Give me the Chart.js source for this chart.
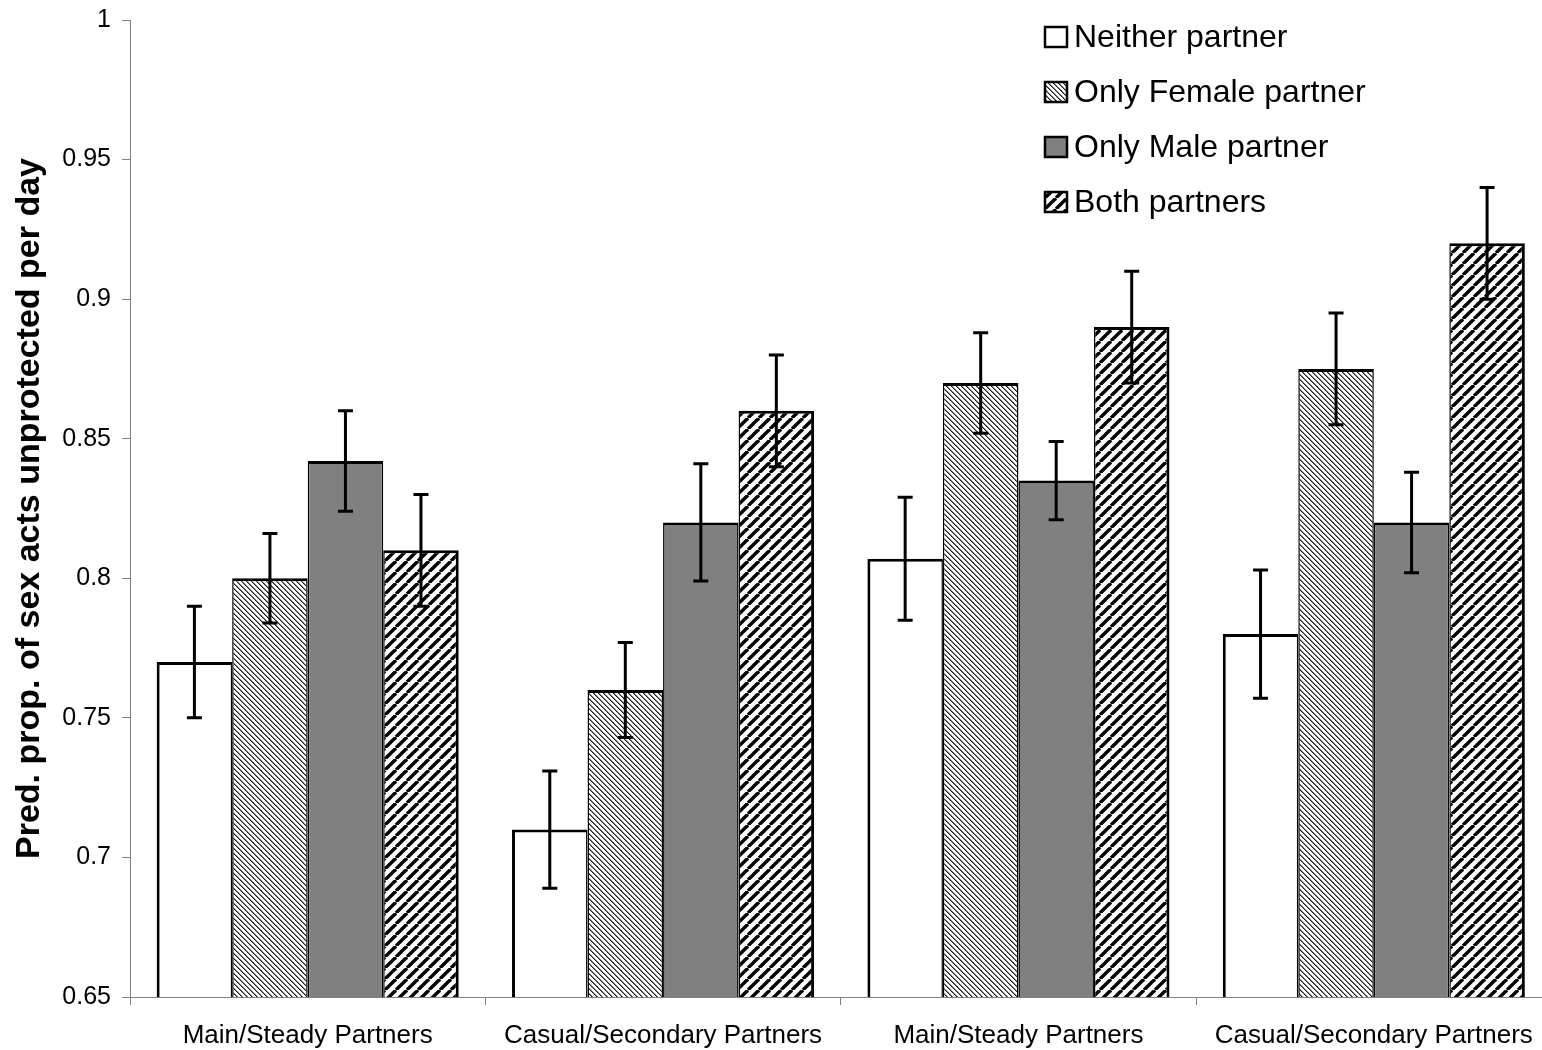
<!DOCTYPE html>
<html>
<head>
<meta charset="utf-8">
<script src="https://cdn.jsdelivr.net/npm/chart.js@4/dist/chart.umd.min.js"></script>
<style>
  html, body { margin: 0; padding: 0; background: #ffffff; overflow: hidden; }
  #wrap { width: 1560px; height: 1050px; }
</style>
</head>
<body>
<div id="wrap"><canvas id="chart" width="1560" height="1050"></canvas></div>
<script>
// Partner-type groups along the x axis
const categories = ['Main/Steady Partners', 'Casual/Secondary Partners', 'Main/Steady Partners', 'Casual/Secondary Partners'];

// Predicted proportion of sex acts unprotected per day, by who reports the condition
const neitherPartner = [0.770, 0.710, 0.807, 0.780];
const onlyFemale     = [0.800, 0.760, 0.870, 0.875];
const onlyMale       = [0.842, 0.820, 0.835, 0.820];
const bothPartners   = [0.810, 0.860, 0.890, 0.920];

// Lower / upper ends of the error bars
const neitherLow  = [0.750, 0.689, 0.785, 0.757];
const neitherHigh = [0.790, 0.731, 0.829, 0.803];
const femaleLow   = [0.784, 0.743, 0.852, 0.855];
const femaleHigh  = [0.816, 0.777, 0.888, 0.895];
const maleLow     = [0.824, 0.799, 0.821, 0.802];
const maleHigh    = [0.860, 0.841, 0.849, 0.838];
const bothLow     = [0.790, 0.840, 0.870, 0.900];
const bothHigh    = [0.830, 0.880, 0.910, 0.940];

const seriesLabels = ['Neither partner', 'Only Female partner', 'Only Male partner', 'Both partners'];
const yTickLabels = ['0.65', '0.7', '0.75', '0.8', '0.85', '0.9', '0.95', '1'];

const FONT = '"Liberation Sans", Arial, Helvetica, sans-serif';

// Fine back-slash hatch
function fineHatch() {
  const n = 5;
  const c = document.createElement('canvas');
  c.width = n; c.height = n;
  const g = c.getContext('2d');
  const img = g.createImageData(n, n);
  for (let y = 0; y < n; y++) {
    for (let x = 0; x < n; x++) {
      const k = ((x - y) % n + n) % n;
      const v = k === 0 ? 30 : (k === 1 ? 130 : 255);
      const i = (y * n + x) * 4;
      img.data[i] = v; img.data[i + 1] = v; img.data[i + 2] = v; img.data[i + 3] = 255;
    }
  }
  g.putImageData(img, 0, 0);
  return g.createPattern(c, 'repeat');
}

// Wide forward-slash hatch
function wideHatch() {
  const p = 11;
  const c = document.createElement('canvas');
  c.width = p; c.height = p;
  const g = c.getContext('2d');
  g.fillStyle = '#ffffff';
  g.fillRect(0, 0, p, p);
  g.strokeStyle = '#000000';
  g.lineWidth = 3.4;
  for (let k = -1; k <= 1; k++) {
    g.beginPath();
    g.moveTo(k * p, p);
    g.lineTo(k * p + p, 0);
    g.stroke();
  }
  return g.createPattern(c, 'repeat');
}

const fills = ['#ffffff', fineHatch(), '#808080', wideHatch()];
const lows  = [neitherLow, femaleLow, maleLow, bothLow];
const highs = [neitherHigh, femaleHigh, maleHigh, bothHigh];
const values = [neitherPartner, onlyFemale, onlyMale, bothPartners];

const datasets = values.map((vals, i) => ({
  label: seriesLabels[i],
  data: vals,
  backgroundColor: fills[i],
  borderColor: '#000000',
  borderSkipped: false,
  borderWidth: {
    top: 3,
    bottom: 3,
    left: i === 0 ? 3 : 1.5,
    right: i === values.length - 1 ? 3 : 1.5
  },
  categoryPercentage: 0.85,
  barPercentage: 1.0
}));

// Error bars with caps, placed through the chart's scales
const errorBars = {
  id: 'errorBars',
  afterDatasetsDraw(chart) {
    const ctx = chart.ctx;
    const ys = chart.scales.y;
    ctx.save();
    ctx.strokeStyle = '#000000';
    ctx.lineWidth = 3;
    chart.data.datasets.forEach((ds, i) => {
      const meta = chart.getDatasetMeta(i);
      meta.data.forEach((bar, j) => {
        const x = bar.x;
        const yl = ys.getPixelForValue(lows[i][j]);
        const yh = ys.getPixelForValue(highs[i][j]);
        ctx.beginPath();
        ctx.moveTo(x, yl); ctx.lineTo(x, yh);
        ctx.moveTo(x - 7.5, yl); ctx.lineTo(x + 7.5, yl);
        ctx.moveTo(x - 7.5, yh); ctx.lineTo(x + 7.5, yh);
        ctx.stroke();
      });
    });
    ctx.restore();
  }
};

// Legend drawn inside the plot, upper right
const innerLegend = {
  id: 'innerLegend',
  afterDraw(chart) {
    const ctx = chart.ctx;
    const boxX = 1045, boxW = 22, boxH = 20, textX = 1074, top = 37, step = 55;
    ctx.save();
    ctx.font = '32px ' + FONT;
    ctx.textBaseline = 'middle';
    ctx.textAlign = 'left';
    chart.data.datasets.forEach((ds, i) => {
      const cy = top + i * step;
      ctx.fillStyle = ds.backgroundColor;
      ctx.fillRect(boxX, cy - boxH / 2, boxW, boxH);
      ctx.lineWidth = 2.5;
      ctx.strokeStyle = '#000000';
      ctx.strokeRect(boxX, cy - boxH / 2, boxW, boxH);
      ctx.fillStyle = '#000000';
      ctx.fillText(ds.label, textX, cy + 1);
    });
    ctx.restore();
  }
};

new Chart(document.getElementById('chart'), {
  type: 'bar',
  data: { labels: categories, datasets },
  options: {
    responsive: false,
    animation: false,
    devicePixelRatio: 1,
    layout: { autoPadding: false, padding: { top: 20, right: 8.5, left: 0, bottom: 0 } },
    plugins: {
      legend: { display: false },
      tooltip: { enabled: false }
    },
    scales: {
      x: {
        offset: true,
        grid: {
          offset: true,
          drawOnChartArea: false,
          drawTicks: true,
          tickLength: 8,
          color: '#808080',
          lineWidth: 1
        },
        border: { color: '#808080', width: 1 },
        ticks: {
          color: '#000000',
          font: { family: FONT, size: 26 },
          padding: 15,
          maxRotation: 0,
          autoSkip: false
        },
        afterFit(scale) {
          scale.height = 53;
          scale.paddingLeft = 0; scale.paddingRight = 0;
        }
      },
      y: {
        min: 0.65,
        max: 1,
        grid: {
          drawOnChartArea: false,
          drawTicks: true,
          tickLength: 8,
          color: '#808080',
          lineWidth: 1
        },
        border: { color: '#808080', width: 1 },
        ticks: {
          stepSize: 0.05,
          color: '#000000',
          font: { family: FONT, size: 25 },
          padding: 11,
          callback: (v, idx) => yTickLabels[idx]
        },
        title: {
          display: true,
          text: 'Pred. prop. of sex acts unprotected per day',
          color: '#000000',
          font: { family: FONT, size: 34, weight: 'bold' },
          padding: { top: 9, bottom: 0 }
        },
        afterFit(scale) {
          scale.width = 130;
          scale.paddingTop = 0; scale.paddingBottom = 0;
        }
      }
    }
  },
  plugins: [errorBars, innerLegend]
});
</script>
</body>
</html>
